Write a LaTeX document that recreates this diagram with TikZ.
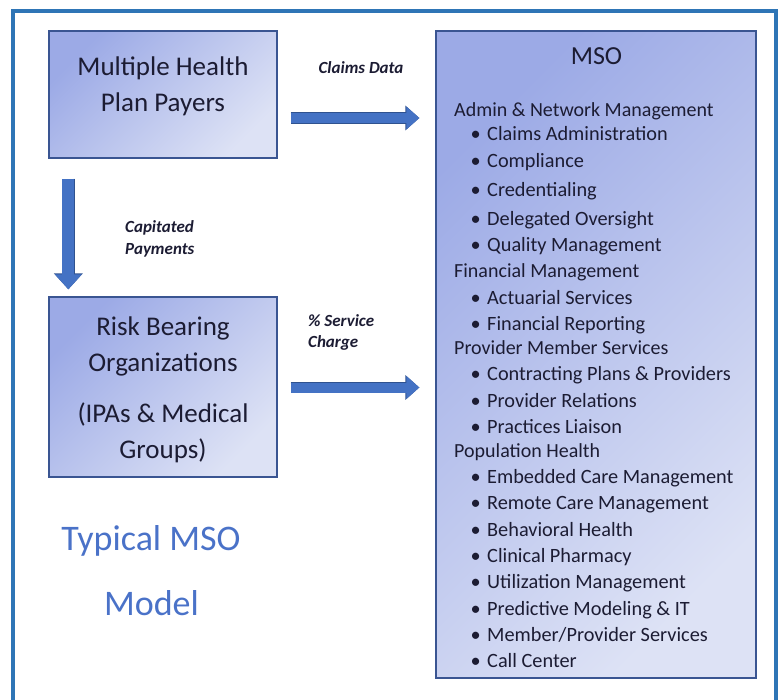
\documentclass[tikz,border=0pt]{standalone}
\usepackage{fontspec}
\setmainfont{Carlito}
\usetikzlibrary{arrows.meta,calc}

\definecolor{frameblue}{HTML}{2E75B6}
\definecolor{boxedge}{HTML}{3A5592}
\definecolor{boxtop}{HTML}{9CAAE6}
\definecolor{boxbot}{HTML}{DDE2F5}
\definecolor{flowblue}{HTML}{4472C4}
\definecolor{flowedge}{HTML}{2F528F}
\definecolor{ink}{HTML}{1C1C33}
\definecolor{titleblue}{HTML}{4A72C8}

\tikzset{
  box/.style={draw=boxedge, line width=1.3pt,
    top color=boxtop, bottom color=boxbot, shading angle=45,
    inner sep=0pt},
  boxtext/.style={anchor=base, inner sep=0pt, text=ink,
    font=\fontsize{27}{32}\selectfont},
  flowlabel/.style={anchor=base west, inner sep=0pt, text=ink,
    font=\fontsize{17}{21}\selectfont\bfseries\itshape},
  msotitle/.style={anchor=base, inner sep=0pt, text=ink,
    font=\fontsize{26}{31}\selectfont},
  group/.style={anchor=base west, inner sep=0pt, text=ink,
    font=\fontsize{20}{24}\selectfont},
  entry/.style={anchor=base west, inner sep=0pt, text=ink,
    font=\fontsize{20.3}{24}\selectfont},
  modeltext/.style={anchor=base, inner sep=0pt, text=titleblue,
    font=\fontsize{36}{43}\selectfont},
  flow/.style={draw=flowblue, line width=10pt,
    -{Triangle[length=13pt,width=22pt]},
    preaction={draw=flowedge, line width=11.5pt,
      -{Triangle[length=14pt,width=24pt]}}},
  flowdown/.style={draw=flowblue, line width=12pt,
    -{Triangle[length=15pt,width=26pt]},
    preaction={draw=flowedge, line width=13.5pt,
      -{Triangle[length=16pt,width=28pt]}}},
}

\begin{document}
\begin{tikzpicture}[x=1pt,y=-1pt]
\useasboundingbox (0,0) rectangle (778,700);

% outer frame (open at the bottom)
\draw[frameblue, line width=4pt] (12.5,700) -- (12.5,11.5) -- (775.5,11.5) -- (775.5,700);

% boxes
\node[box, minimum width=228pt, minimum height=127pt] (payers) at (163,94.5) {};
\node[box, minimum width=228pt, minimum height=180pt] (rbo) at (163,387) {};
\node[box, minimum width=320pt, minimum height=647pt] (mso) at (596,354.5) {};

% box captions
\node[boxtext] (payers1) at (163,76) {Multiple Health};
\node[boxtext] (payers2) at (163,112) {Plan Payers};
\node[boxtext] (rbo1) at (163,335) {Risk Bearing};
\node[boxtext] (rbo2) at (163,371) {Organizations};
\node[boxtext] (rbo3) at (163,422) {(IPAs \& Medical};
\node[boxtext] (rbo4) at (163,458) {Groups)};

% flows between the boxes
\draw[flow] ($(payers.east)+(13,23.5)$) -- ($(mso.west |- payers.east)+(-16,23.5)$);
\draw[flow] ($(rbo.east)+(13,0.5)$) -- ($(mso.west |- rbo.east)+(-16,0.5)$);
\draw[flowdown] ($(payers.south west)+(20,20)$) -- ($(rbo.north west)+(20,-7)$);

% flow labels
\node[flowlabel, anchor=base] (claims) at (361,74) {Claims Data};
\node[flowlabel] (cap1) at (125,233) {Capitated};
\node[flowlabel] (cap2) at (125,255) {Payments};
\node[flowlabel] (svc1) at (308,326) {\% Service};
\node[flowlabel] (svc2) at (308,347) {Charge};

% MSO services
\node[msotitle] (msotitle) at (596.5,65) {MSO};
\foreach \txt/\yb [count=\i] in {
    {Admin \& Network Management}/117,
    {Financial Management}/277,
    {Provider Member Services}/354,
    {Population Health}/457}
  \node[group] (grp\i) at (454,\yb) {\txt};
\foreach \txt/\yb [count=\i] in {
    {Claims Administration}/141,
    {Compliance}/168,
    {Credentialing}/197,
    {Delegated Oversight}/226,
    {Quality Management}/252,
    {Actuarial Services}/304,
    {Financial Reporting}/330,
    {Contracting Plans \& Providers}/380,
    {Provider Relations}/407,
    {Practices Liaison}/433,
    {Embedded Care Management}/483,
    {Remote Care Management}/509,
    {Behavioral Health}/536,
    {Clinical Pharmacy}/562,
    {Utilization Management}/588,
    {Predictive Modeling \& IT}/615,
    {Member/Provider Services}/641,
    {Call Center}/667}
  \node[entry] (item\i) at (487,\yb) {\llap{•\hspace{6.5pt}}\txt};

% caption
\node[modeltext] (model1) at (151,550) {Typical MSO};
\node[modeltext] (model2) at (151.5,615) {Model};
\end{tikzpicture}
\end{document}
